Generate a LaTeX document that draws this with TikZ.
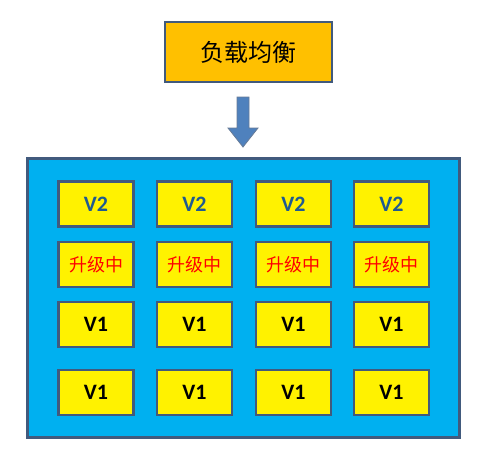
\documentclass[tikz,border=0pt]{standalone}
\usepackage{fontspec}
\setmainfont{Carlito}
\newfontfamily\cjk{Noto Sans CJK SC}
\usetikzlibrary{positioning}
\definecolor{lborange}{RGB}{255,192,0}
\definecolor{poolblue}{RGB}{0,176,240}
\definecolor{edgeblue}{RGB}{65,90,125}
\definecolor{arrowblue}{RGB}{79,129,189}
\definecolor{verblue}{RGB}{31,90,145}
\tikzset{
  srv/.style={draw=edgeblue,line width=2.2pt,fill=yellow,minimum width=75pt,
    minimum height=45pt,inner sep=0pt,font=\bfseries\fontsize{22}{22}\selectfont},
  upd/.style={srv,text=red,font=\cjk\fontsize{18}{18}\selectfont}
}
\begin{document}
\begin{tikzpicture}[x=1pt,y=-1pt]
  \useasboundingbox (0,0) rectangle (493,469);
  % load balancer
  \node[draw=edgeblue,line width=2pt,fill=lborange,minimum width=167pt,
    minimum height=60pt,font=\cjk\fontsize{24}{24}\selectfont] (lb) at (248,52) {负载均衡};
  % server pool
  \node[draw=edgeblue,line width=2.2pt,fill=poolblue,minimum width=432pt,
    minimum height=279pt] (pool) at (243.5,298) {};
  % arrow between them
  \filldraw[fill=arrowblue,draw=edgeblue!80,line width=0.8pt]
    (237,97) -- (249,97) -- (249,128) -- (258,128) -- (243,147)
    -- (228,128) -- (237,128) -- cycle;
  % servers
  \foreach \c/\x in {1/96,2/194.5,3/293.5,4/391.5}{
    \node[srv,text=verblue] (v2-\c) at (\x,204) {V2};
    \node[upd] (up-\c) at (\x,264.5) {升级中};
    \node[srv] (va-\c) at (\x,324.5) {V1};
    \node[srv] (vb-\c) at (\x,392.5) {V1};
  }
\end{tikzpicture}
\end{document}
